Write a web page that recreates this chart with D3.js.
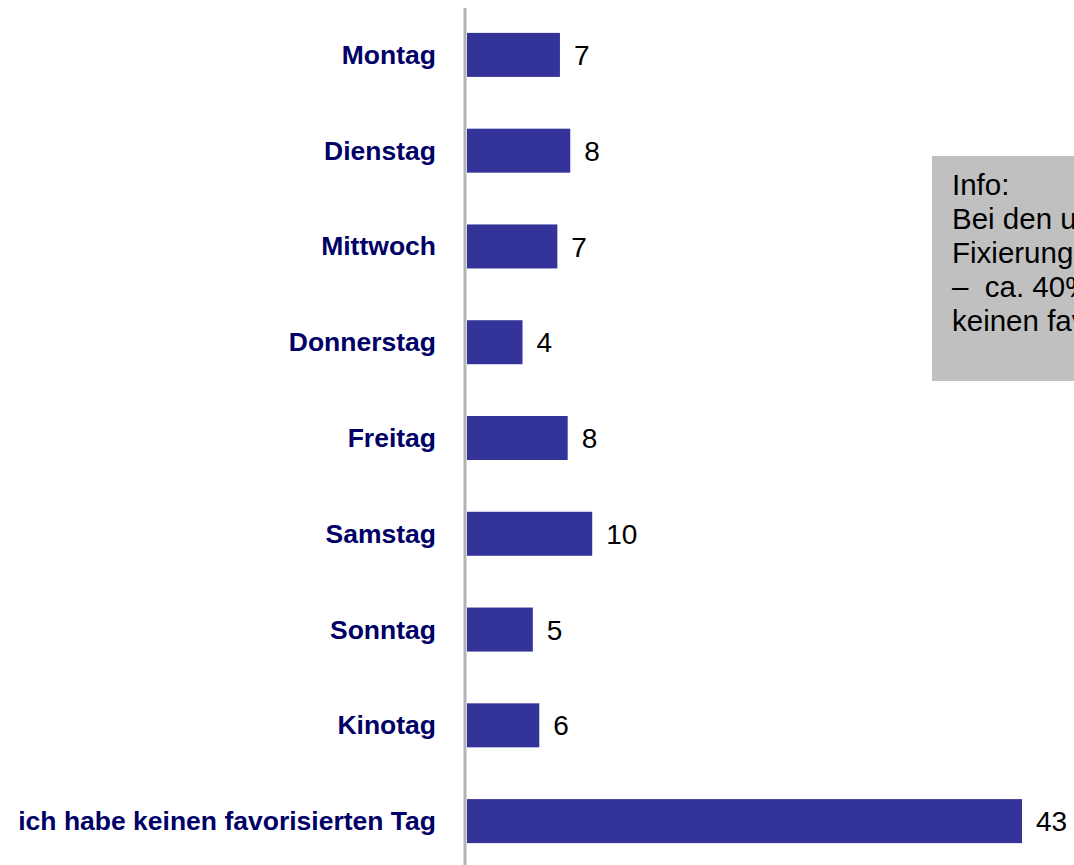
<!DOCTYPE html>
<html>
<head>
<meta charset="utf-8">
<script src="https://cdn.jsdelivr.net/npm/d3@7"></script>
<style>
  html, body { margin: 0; padding: 0; background: #fff; overflow: hidden; }
  svg { display: block; }
</style>
</head>
<body>
<div id="chart"></div>
<script>
// data (percent)
const days = ['Montag', 'Dienstag', 'Mittwoch', 'Donnerstag', 'Freitag', 'Samstag', 'Sonntag', 'Kinotag', 'ich habe keinen favorisierten Tag'];
const shares = [7.2, 8.0, 7.0, 4.3, 7.8, 9.7, 5.1, 5.6, 43.0];
const infoLines = ['Info:', 'Bei den unter 20-Jährigen ist die', 'Fixierung auf einen Tag am geringsten', '–  ca. 40% der Befragten haben', 'keinen favorisierten Tag'];

const WIDTH = 1074;
const HEIGHT = 865;
const BAR_COLOR = '#333399';
const LABEL_COLOR = '#000066';
const AXIS_COLOR = '#b3b3b3';
const BAR_HEIGHT = 44;
const FONT = 'Liberation Sans, Arial, sans-serif';

const svg = d3.select('#chart')
  .append('svg')
  .attr('width', WIDTH)
  .attr('height', HEIGHT);

const x = d3.scaleLinear()
  .domain([0, 43])
  .range([467, 1022]);

const y = d3.scalePoint()   // centre of each bar
  .domain(days)
  .range([7, 869])
  .padding(0.5);

// info box, runs past the right edge like in the original
const info = svg.append('g');
info.append('rect')
  .attr('x', 932)
  .attr('y', 156)
  .attr('width', 300)
  .attr('height', 225)
  .attr('fill', '#c0c0c0');
info.selectAll('text')
  .data(infoLines)
  .enter()
  .append('text')
  .attr('x', 952)
  .attr('y', (d, i) => 195 + i * 34)
  .attr('font-family', FONT)
  .attr('font-size', '29.5px')
  .attr('fill', '#000')
  .style('white-space', 'pre')
  .text(d => d);

// bars
svg.append('g')
  .selectAll('rect')
  .data(shares)
  .enter()
  .append('rect')
  .attr('x', x(0))
  .attr('y', (d, i) => y(days[i]) - BAR_HEIGHT / 2)
  .attr('width', d => x(d) - x(0))
  .attr('height', BAR_HEIGHT)
  .attr('fill', BAR_COLOR);

// value labels
svg.append('g')
  .selectAll('text')
  .data(shares)
  .enter()
  .append('text')
  .attr('x', d => x(d) + 14)
  .attr('y', (d, i) => y(days[i]))
  .attr('dy', '0.36em')
  .attr('font-family', FONT)
  .attr('font-size', '28px')
  .attr('fill', '#000')
  .text(d => d3.format('.0f')(d));

// category axis on the left
const yAxis = svg.append('g')
  .attr('transform', 'translate(465,0)')
  .call(d3.axisLeft(y).tickSize(0).tickPadding(29));
yAxis.select('.domain').remove();
yAxis.append('line')
  .attr('x1', 0).attr('x2', 0)
  .attr('y1', 8).attr('y2', HEIGHT)
  .attr('stroke', AXIS_COLOR)
  .attr('stroke-width', 3);
yAxis.selectAll('.tick text')
  .attr('font-family', FONT)
  .attr('font-size', '26.5px')
  .attr('font-weight', 'bold')
  .attr('fill', LABEL_COLOR);
</script>
</body>
</html>
